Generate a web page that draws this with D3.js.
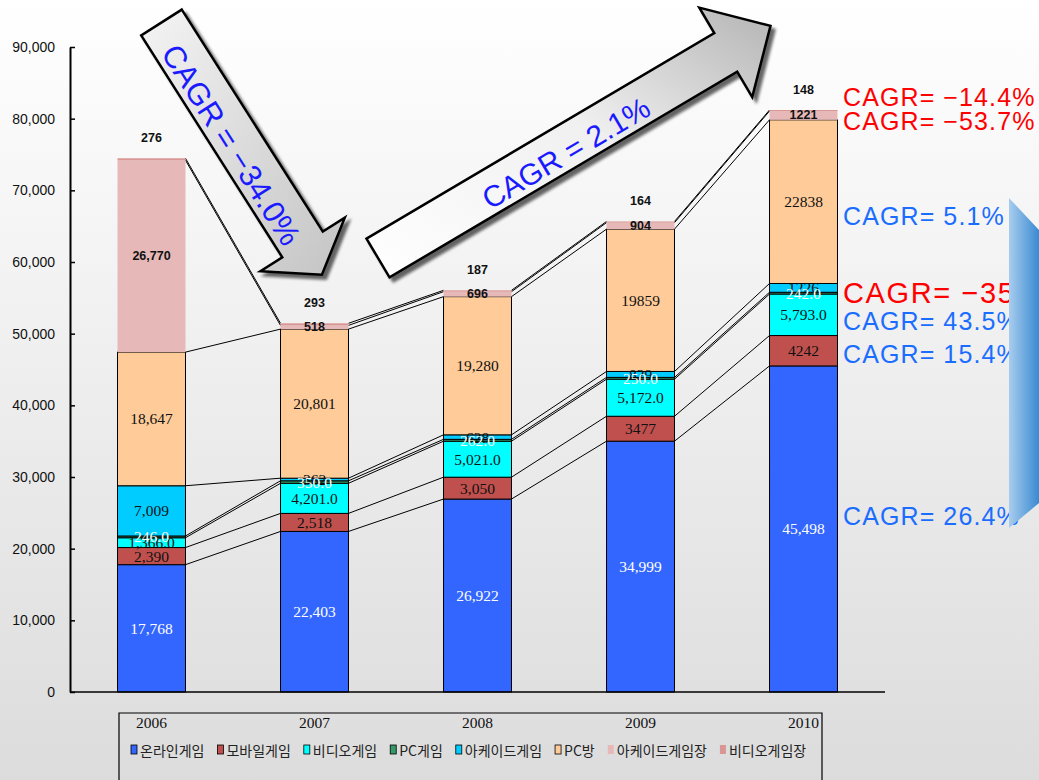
<!DOCTYPE html>
<html>
<head>
<meta charset="utf-8">
<script src="https://cdn.jsdelivr.net/npm/d3@7"></script>
<style>
  body { margin: 0; background: #fff; }
  svg { display: block; }
</style>
</head>
<body>
<div id="chart"></div>
<script>
// data
var years = ["2006", "2007", "2008", "2009", "2010"];
var seriesNames = ["온라인게임", "모바일게임", "비디오게임", "PC게임", "아케이드게임", "PC방", "아케이드게임장", "비디오게임장"];

var online = [17768, 22403, 26922, 34999, 45498];
var mobile = [2390, 2518, 3050, 3477, 4242];
var video = [1366, 4201, 5021, 5172, 5793];
var pcGame = [246, 350, 262, 250, 242];
var arcade = [7009, 362, 628, 829, 1226];
var pcBang = [18647, 20801, 19280, 19859, 22838];
var arcadeCenter = [26770, 518, 696, 904, 1221];
var videoCenter = [276, 293, 187, 164, 148];

// labels as printed on the bars
var onlineLabels = ["17,768", "22,403", "26,922", "34,999", "45,498"];
var mobileLabels = ["2,390", "2,518", "3,050", "3477", "4242"];
var videoLabels = ["1,366.0", "4,201.0", "5,021.0", "5,172.0", "5,793.0"];
var pcGameLabels = ["246.0", "350.0", "262.0", "250.0", "242.0"];
var arcadeLabels = ["7,009", "362", "628", "829", "1226"];
var pcBangLabels = ["18,647", "20,801", "19,280", "19859", "22838"];
var arcadeCenterLabels = ["26,770", "518", "696", "904", "1221"];
var videoCenterLabels = ["276", "293", "187", "164", "148"];

var yTicks = [0, 10000, 20000, 30000, 40000, 50000, 60000, 70000, 80000, 90000];

var cagrTexts = ["CAGR= \u221214.4%", "CAGR= \u221253.7%", "CAGR= 5.1%", "CAGR= \u221235", "CAGR= 43.5%", "CAGR= 15.4%", "CAGR= 26.4%"];
var arrowTexts = ["CAGR = \u221234.0%", "CAGR = 2.1%"];

var W = 1039, H = 780;
var colors = ["#3366ff", "#c0504d", "#00ffff", "#339966", "#00ccff", "#ffcc99", "#e6b9b8", "#d99694"];

var svg = d3.select("#chart").append("svg")
    .attr("width", W)
    .attr("height", H)
    .style("font-family", "'Liberation Serif', 'Times New Roman', serif");

var defs = svg.append("defs");

var bg = defs.append("linearGradient").attr("id", "bg").attr("x1", 0).attr("y1", 0).attr("x2", 0).attr("y2", 1);
bg.append("stop").attr("offset", "0%").attr("stop-color", "#ffffff");
bg.append("stop").attr("offset", "100%").attr("stop-color", "#dcdcdc");

var g1 = defs.append("linearGradient").attr("id", "arr1").attr("x1", 0).attr("y1", 0).attr("x2", 1).attr("y2", 1);
g1.append("stop").attr("offset", "0%").attr("stop-color", "#f4f4f4");
g1.append("stop").attr("offset", "100%").attr("stop-color", "#c4c4c4");

var g2 = defs.append("linearGradient").attr("id", "arr2").attr("x1", 0).attr("y1", 1).attr("x2", 1).attr("y2", 0);
g2.append("stop").attr("offset", "0%").attr("stop-color", "#ffffff");
g2.append("stop").attr("offset", "55%").attr("stop-color", "#f0f0f0");
g2.append("stop").attr("offset", "100%").attr("stop-color", "#b4b4b4");

var g3 = defs.append("linearGradient").attr("id", "blue").attr("x1", 0).attr("y1", 0).attr("x2", 1).attr("y2", 0);
g3.append("stop").attr("offset", "0%").attr("stop-color", "#a8cdee");
g3.append("stop").attr("offset", "100%").attr("stop-color", "#3a8ad2");

var shadow = defs.append("filter").attr("id", "shadow").attr("x", "-20%").attr("y", "-20%").attr("width", "140%").attr("height", "140%");
shadow.append("feGaussianBlur").attr("in", "SourceAlpha").attr("stdDeviation", 1.5);
shadow.append("feOffset").attr("dx", 4).attr("dy", 4).attr("result", "off");
shadow.append("feComponentTransfer").append("feFuncA").attr("type", "linear").attr("slope", 0.6);
var merge = shadow.append("feMerge");
merge.append("feMergeNode");
merge.append("feMergeNode").attr("in", "SourceGraphic");

svg.append("rect").attr("width", W).attr("height", H).attr("fill", "url(#bg)");

// scales
var x = d3.scaleBand().domain(years).range([70, 885]).paddingInner(0.583).paddingOuter(0.2915);
var y = d3.scaleLinear().domain([0, 90000]).range([692, 47]);
var bw = x.bandwidth();

var rows = years.map(function (yr, i) {
    return { year: yr, s0: online[i], s1: mobile[i], s2: video[i], s3: pcGame[i], s4: arcade[i], s5: pcBang[i], s6: arcadeCenter[i], s7: videoCenter[i] };
});
var keys = ["s0", "s1", "s2", "s3", "s4", "s5", "s6", "s7"];
var stacked = d3.stack().keys(keys)(rows);
var labelSets = [onlineLabels, mobileLabels, videoLabels, pcGameLabels, arcadeLabels, pcBangLabels, arcadeCenterLabels, videoCenterLabels];

// series lines between bars
stacked.forEach(function (layer) {
    for (var j = 0; j < years.length - 1; j++) {
        svg.append("line")
            .attr("x1", x(years[j]) + bw)
            .attr("y1", y(layer[j][1]))
            .attr("x2", x(years[j + 1]))
            .attr("y2", y(layer[j + 1][1]))
            .attr("stroke", "#000")
            .attr("stroke-width", 1);
    }
});

// bars
stacked.forEach(function (layer, si) {
    svg.append("g").selectAll("rect")
        .data(layer)
        .join("rect")
        .attr("x", function (d) { return x(d.data.year); })
        .attr("y", function (d) { return y(d[1]); })
        .attr("width", bw)
        .attr("height", function (d) { return y(d[0]) - y(d[1]); })
        .attr("fill", colors[si])
        .attr("stroke", si < 6 ? "#000" : "none")
        .attr("stroke-width", 1);
});

// axes
var yAxis = svg.append("g")
    .attr("transform", "translate(70,0)")
    .call(d3.axisLeft(y).tickValues(yTicks).tickFormat(d3.format(",")).tickSizeInner(-5).tickSizeOuter(0).tickPadding(15));
yAxis.select(".domain").attr("stroke-width", 2);
yAxis.selectAll("text").style("font-size", "14px").attr("fill", "#111");
yAxis.selectAll("line").attr("stroke-width", 1.5);

svg.append("line")
    .attr("x1", 70).attr("x2", 885)
    .attr("y1", y(0)).attr("y2", y(0))
    .attr("stroke", "#000").attr("stroke-width", 1.5);

// bar labels
var labelStyle = [
    { fill: "#fff", bold: false }, { fill: "#111", bold: false }, { fill: "#111", bold: false }, { fill: "#fff", bold: false },
    { fill: "#111", bold: false }, { fill: "#111", bold: false }, { fill: "#111", bold: true }, { fill: "#111", bold: true }
];
// dark labels first so the white ones sit over them, as in the original
[0, 1, 2, 4, 5, 3, 6, 7].forEach(function (si) {
    var layer = stacked[si];
    var st = labelStyle[si];
    svg.append("g").selectAll("text")
        .data(layer)
        .join("text")
        .attr("x", function (d) { return x(d.data.year) + bw / 2; })
        .attr("y", function (d) {
            if (si === 7) return y(d[1]) - 20;
            return (y(d[0]) + y(d[1])) / 2;
        })
        .attr("text-anchor", "middle")
        .attr("dominant-baseline", "central")
        .attr("fill", st.fill)
        .style("font-family", st.bold ? "'Liberation Sans', Arial, sans-serif" : null)
        .style("font-weight", st.bold ? "bold" : "normal")
        .style("font-size", st.bold ? "12.5px" : "15.5px")
        .text(function (d, i) { return labelSets[si][i]; });
});

// category box + legend
svg.append("path")
    .attr("d", "M119,780V713H822V780")
    .attr("fill", "none")
    .attr("stroke", "#000")
    .attr("stroke-width", 1.2);

svg.append("g").selectAll("text")
    .data(years)
    .join("text")
    .attr("x", function (d) { return x(d) + bw / 2; })
    .attr("y", 728)
    .attr("text-anchor", "middle")
    .style("font-size", "15.5px")
    .attr("fill", "#111")
    .text(function (d) { return d; });

var legend = svg.append("g");
var lx = 131;
seriesNames.forEach(function (name, i) {
    legend.append("rect")
        .attr("x", lx).attr("y", 745)
        .attr("width", 6).attr("height", 9)
        .attr("fill", colors[i])
        .attr("stroke", i < 6 ? "#000" : "none")
        .attr("stroke-width", 0.8);
    var t = legend.append("text")
        .attr("x", lx + 9)
        .attr("y", 756)
        .attr("fill", "#222")
        .style("font-family", "'Noto Sans CJK KR', sans-serif")
        .style("font-size", "14px")
        .text(name);
    lx += 9 + t.node().getComputedTextLength() + 13;
});

// CAGR notes on the right
var notes = svg.append("g").style("font-family", "'Liberation Sans', Arial, sans-serif");
var noteLayout = [
    { y: 106, size: 25, color: "#ff0000" },
    { y: 130, size: 25, color: "#ff0000" },
    { y: 225, size: 25, color: "#1a6dff" },
    { y: 303, size: 29, color: "#ff0000" },
    { y: 330, size: 25, color: "#1a6dff" },
    { y: 363, size: 25, color: "#1a6dff" },
    { y: 525, size: 25, color: "#1a6dff" }
];
function addNote(i) {
    notes.append("text")
        .attr("x", 843).attr("y", noteLayout[i].y)
        .attr("fill", noteLayout[i].color)
        .style("font-size", noteLayout[i].size + "px")
        .style("letter-spacing", (noteLayout[i].size > 25 ? 1.6 : 1.1) + "px")
        .text(cagrTexts[i]);
}
[0, 1, 2, 3, 4, 5].forEach(addNote);

// blue side shape, sitting over the clipped notes
svg.append("path")
    .attr("d", "M1009,198L1039,230V503L1009,528Z")
    .attr("fill", "url(#blue)");

addNote(6);

// big block arrows
function arrowPath(cx, cy, angle, len, shaftW, headW, headL) {
    var a = angle * Math.PI / 180;
    var dx = Math.cos(a), dy = Math.sin(a);
    var nx = -dy, ny = dx;
    var b = len - headL;
    function p(along, across) { return [cx + dx * along + nx * across, cy + dy * along + ny * across]; }
    var pts = [p(0, -shaftW / 2), p(b, -shaftW / 2), p(b, -headW / 2), p(len, 0), p(b, headW / 2), p(b, shaftW / 2), p(0, shaftW / 2)];
    return "M" + pts.map(function (q) { return q[0].toFixed(1) + "," + q[1].toFixed(1); }).join("L") + "Z";
}

var arrows = [
    { cx: 161.5, cy: 22.5, angle: 57.56, len: 299, shaftW: 48, headW: 100, headL: 36, fill: "url(#arr1)", tx: 231, ty: 145, size: 31 },
    { cx: 378, cy: 258, angle: -30.6, len: 456, shaftW: 45, headW: 104, headL: 52, fill: "url(#arr2)", tx: 566, ty: 153, size: 30 }
];
arrows.forEach(function (ar, i) {
    svg.append("path")
        .attr("d", arrowPath(ar.cx, ar.cy, ar.angle, ar.len, ar.shaftW, ar.headW, ar.headL))
        .attr("fill", ar.fill)
        .attr("stroke", "#000")
        .attr("stroke-width", 2.5)
        .attr("stroke-linejoin", "miter")
        .attr("filter", "url(#shadow)");
    svg.append("text")
        .attr("transform", "translate(" + ar.tx + "," + ar.ty + ") rotate(" + ar.angle + ")")
        .attr("text-anchor", "middle")
        .attr("dominant-baseline", "central")
        .attr("fill", "#1a1aff")
        .style("font-family", "'Liberation Sans', Arial, sans-serif")
        .style("font-size", ar.size + "px")
        .text(arrowTexts[i]);
});
</script>
</body>
</html>
